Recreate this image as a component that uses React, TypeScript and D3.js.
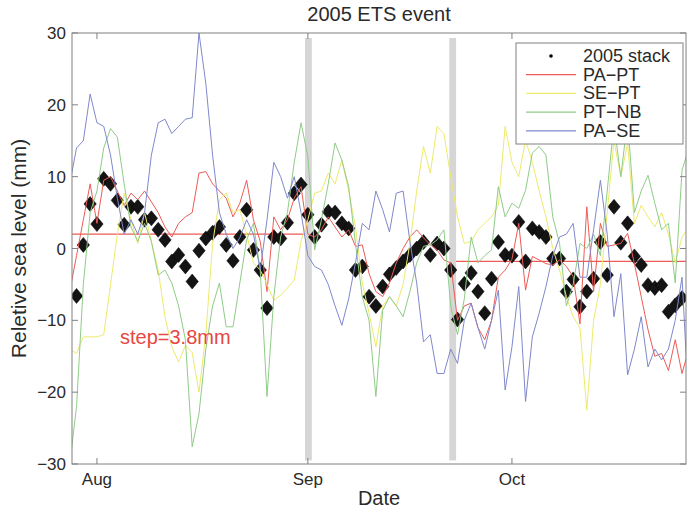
import React from "react";
import * as d3 from "d3";

const DAY = 86400000;
const lineStartUTC = Date.UTC(2005, 6, 28);
const stackStartUTC = Date.UTC(2005, 6, 29);

const stack2005 = [
  -6.6, 0.5, 6.2, 3.4, 9.7, 9.0, 6.7, 3.3, 5.8, 5.8, 4.0, 4.2, 2.6, 1.2, -1.8, -0.9, -2.5, -4.6, -0.3, 1.4,
  2.2, 3.0, 0.5, -1.7, 1.6, 5.4, -0.2, -3.0, -8.3, 1.6, 1.4, 3.6, 7.7, 8.9, 4.7, 1.6, 3.3, 5.1, 5.0, 3.5,
  2.8, -3.0, -2.5, -6.7, -8.0, -5.3, -3.6, -2.7, -1.8, -0.9, 0.0, 0.9, -0.9, 0.7, 0.0, -3.0, -9.9, -4.9, -3.4, -6.0,
  -9.0, -4.2, 0.9, -0.9, -1.0, 3.7, -1.8, 2.8, 2.3, 1.6, -1.4, -1.4, -6.0, -4.3, -8.1, -6.0, -4.2, 0.9, -3.7, 5.8,
  0.8, 3.5, -1.1, -2.3, -5.1, -5.5, -5.1, -8.8, -7.9, -6.9,
];

const paPt = [
  -6, -1, 4, 9, 3.5, 9.5, 10, 8, 6, 7.7, 6.8, 8, 6.5, 5, 3, 1.6, 3.5, 4.4, 5, 10.5,
  10.7, 9, 8, 7, 4.4, 6.3, 9.5, 4, 1, -6, 4.4, 2.6, 4, 7, 8.6, 2, 1.6, 2.6, 4.4, 3,
  1.6, 2.6, 0.3, 0.5, -3.5, -6, -6.7, -4.8, -2, 0, 1.6, 2.6, 1.5, 0.5, -0.2, -1.6, -2, -10, -8, -7.6,
  -11, -12.7, -10, -4, -3, -1.5, 3.5, -5.8, -1.1, -1.6, -2.1, -2.3, -1.6, -2.5, -3.9, -10.5, 5.8, -6, 3.5, 0.3,
  0.5, 0.7, 2.1, -2.1, -6.7, -11.3, -15, -14.6, -17, -12.7, -17.4, -14,
];

const sePt = [
  -14, -14.6, -12.3, -12.3, -12.3, -12, -5, 2, 7.7, 4, 0.7, 5, 1, -3, -9.5, -13.7, -15.8, -13.5, -14.5, -20,
  -12, 0.7, 6.8, 7.7, 5, 5.4, 2, -2, -3, -5, -7.2, -6.5, -5.5, -4.4, 1, 4, 7.7, 8, 10.5, 9,
  12.3, 8, 3, -4.8, -9, -13.7, -8, -6.7, -8, -5, 0.7, 8, 14.2, 10.5, 17, 16, 10, 4.4, 0.7, 1,
  2.6, 3.5, 4.4, 6, 17, 12, 10, 15.1, 12, 8, 4.4, 0, -3, -6.7, -9.5, -11, -22.5, -10, -5, 5,
  15, 10, 14.6, 3.5, 6, 4.4, 3, 5, 2, -2, 1.6, 3,
];

const ptNb = [
  -30, -22, -5, 5, 8, 14, 16.7, 15.5, 9, 3, 1, 3.5, 1, -3.7, -3, -4.8, -8, -12.7, -27.6, -23,
  -14, -8, -4.8, -10.9, -10.9, -4.8, 1.2, 3.5, -3, -20.6, -6.7, 1.6, 5, 12, 17.5, 12.8, -0.2, 4, 9, 14.7,
  12.3, 8.6, 0.7, -6.7, -10, -20.6, -8.6, -6.7, -8, -9.5, -6, -2, 0.3, 0.5, 1.2, 2.6, -8, -12, -7, 1.6,
  -2, -1, -0.2, 8.6, 4.4, 6.3, 5.6, 8.1, 13.3, 14.2, 13, 4.4, 0.7, -8, -5, 0.7, 0, 2, -1, 8,
  17.4, 10, 17.9, 5, 8, 10.2, 6.3, 2.6, 3.5, -4.8, 10.9, 14,
];

const paSe = [
  9, 14, 15, 21.5, 17.5, 17, 13, 7, 2, 4, 2, 5, 13, 17.5, 18, 16, 17, 18, 18.2, 30,
  23, 13, 5, 2, 0, 1.5, 4, 2, -3, 4, 12, 10, 7, 10, 5, -1, -2.5, -3, -5, -8,
  -10.7, -7, -2, 3.5, 2.6, 8, 5.4, 2.3, 7.7, 8, 1, -4.8, -13, -12, -17.4, -17.4, -14, -16, -10, -7.6,
  -11, -14, -10, -5.8, -19.7, -13.7, -5.3, -21.3, -12.3, -9, -5.3, -1, 1.6, 2, 3.5, -4, -4, 2.6, 9.5, 2,
  -9.5, -3.5, -17.6, -14, -9.5, -16.5, -14, -15.5, -14, -10, -4, -22,
];

const seriesNames = ["PA\u2212PT", "SE\u2212PT", "PT\u2212NB", "PA\u2212SE"];
const seriesValues = [paPt, sePt, ptNb, paSe];
const seriesColors = ["#ec5b55", "#eeea6c", "#8fcc88", "#8088cc"];
const stackName = "2005 stack";

const yTicks = [-30, -20, -10, 0, 10, 20, 30];
const monthTicks = [Date.UTC(2005, 7, 1), Date.UTC(2005, 8, 1), Date.UTC(2005, 9, 1)];
const xDomain = [Date.UTC(2005, 6, 28, 8), Date.UTC(2005, 9, 26, 14)];
const eventBars = [
  [Date.UTC(2005, 7, 31, 14), Date.UTC(2005, 8, 1, 14)],
  [Date.UTC(2005, 8, 21, 19), Date.UTC(2005, 8, 22, 19)],
];
const stepLevels = [2.0, -1.8];
const stepLabel = "step=3.8mm";

const W = 692, H = 510;
const L = 72, R = 686, T = 33, B = 464;

export default function App() {
  const x = d3.scaleUtc().domain(xDomain.map((t) => new Date(t))).range([L, R]);
  const y = d3.scaleLinear().domain([-30, 30]).range([B, T]);
  const fmt = d3.utcFormat("%b");
  const line = d3
    .line<number>()
    .x((_, i) => x(new Date(lineStartUTC + i * DAY)))
    .y((v) => y(v));
  const diamond = "M0,-7.5L6.2,0L0,7.5L-6.2,0Z";
  const axisCol = "#808080";
  const textCol = "#2a2a2a";
  const font = "Liberation Sans, Arial, Helvetica, sans-serif";
  const legX = 516, legY = 43, legW = 167, legH = 101;
  const rowY = (i: number) => legY + 13 + i * 18.7;

  return (
    <svg width={W} height={H} style={{ position: "absolute", left: 0, top: 0, background: "#fff" }} fontFamily={font}>
      <defs>
        <clipPath id="plotClip">
          <rect x={L} y={T} width={R - L} height={B - T} />
        </clipPath>
      </defs>
      <rect x={0} y={0} width={W} height={H} fill="#fff" />
      <text x={(L + R) / 2} y={21} textAnchor="middle" fontSize={20} fill={textCol}>2005 ETS event</text>

      <g clipPath="url(#plotClip)">
        {eventBars.map((b, i) => (
          <rect key={i} x={x(new Date(b[0]))} y={y(29.3)} width={x(new Date(b[1])) - x(new Date(b[0]))} height={y(-29.5) - y(29.3)} fill="#d6d6d6" />
        ))}
        <line x1={L} x2={x(new Date(eventBars[0][0]))} y1={y(stepLevels[0])} y2={y(stepLevels[0])} stroke="#ec5b55" strokeWidth={1.2} />
        <line x1={x(new Date(eventBars[1][1]))} x2={R} y1={y(stepLevels[1])} y2={y(stepLevels[1])} stroke="#ec5b55" strokeWidth={1.2} />
        {stack2005.map((v, i) => (
          <path key={i} d={diamond} transform={`translate(${x(new Date(stackStartUTC + i * DAY))},${y(v)})`} fill="#141414" stroke="#000" strokeWidth={0.5} />
        ))}
        {seriesValues.map((vals, k) => (
          <path key={k} d={line(vals) || ""} fill="none" stroke={seriesColors[k]} strokeWidth={1} strokeLinejoin="round" />
        ))}
      </g>

      <text x={120} y={344} fontSize={20} fill="#e8473f">{stepLabel}</text>

      <rect x={L} y={T} width={R - L} height={B - T} fill="none" stroke={axisCol} strokeWidth={1} />
      {yTicks.map((t) => (
        <g key={t}>
          <line x1={L} x2={L + 6} y1={y(t)} y2={y(t)} stroke={axisCol} />
          <line x1={R - 6} x2={R} y1={y(t)} y2={y(t)} stroke={axisCol} />
          <text x={66} y={y(t) + 6} textAnchor="end" fontSize={17} fill={textCol}>{t < 0 ? "\u2212" + Math.abs(t) : String(t)}</text>
        </g>
      ))}
      {monthTicks.map((t) => (
        <g key={t}>
          <line x1={x(new Date(t))} x2={x(new Date(t))} y1={B} y2={B - 6} stroke={axisCol} />
          <line x1={x(new Date(t))} x2={x(new Date(t))} y1={T} y2={T + 6} stroke={axisCol} />
          <text x={x(new Date(t))} y={485} textAnchor="middle" fontSize={17} fill={textCol}>{fmt(new Date(t))}</text>
        </g>
      ))}
      <text x={(L + R) / 2} y={505} textAnchor="middle" fontSize={20} fill={textCol}>Date</text>
      <text transform={`translate(26,${(T + B) / 2}) rotate(-90)`} textAnchor="middle" fontSize={21} fill={textCol}>Reletive sea level (mm)</text>

      <rect x={legX} y={legY} width={legW} height={legH} fill="#fff" stroke={axisCol} strokeWidth={1} />
      <circle cx={551} cy={rowY(0)} r={1.8} fill="#000" />
      <text x={583} y={rowY(0) + 6} fontSize={18} fill={textCol}>{stackName}</text>
      {seriesNames.map((n, k) => (
        <g key={n}>
          <line x1={526} x2={576} y1={rowY(k + 1)} y2={rowY(k + 1)} stroke={seriesColors[k]} strokeWidth={1.2} />
          <text x={583} y={rowY(k + 1) + 6} fontSize={18} fill={textCol}>{n}</text>
        </g>
      ))}
    </svg>
  );
}
